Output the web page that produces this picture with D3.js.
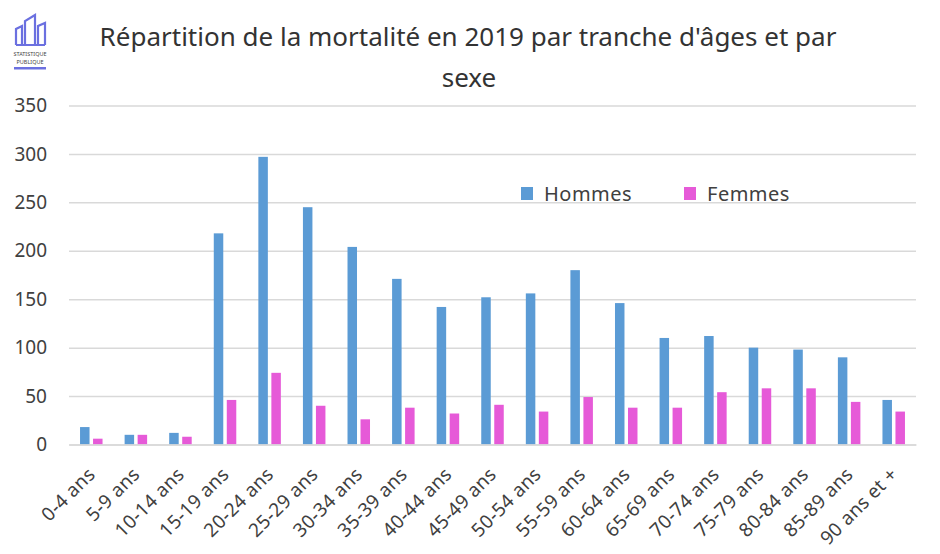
<!DOCTYPE html>
<html>
<head>
<meta charset="utf-8">
<script src="https://cdn.jsdelivr.net/npm/d3@7"></script>
<style>
  body { margin: 0; background: #fff; }
  svg { display: block; font-family: "Noto Sans", "Open Sans", sans-serif; }
</style>
</head>
<body>
<div id="chart"></div>
<script>
// Data
var categories = ["0-4 ans", "5-9 ans", "10-14 ans", "15-19 ans", "20-24 ans", "25-29 ans",
    "30-34 ans", "35-39 ans", "40-44 ans", "45-49 ans", "50-54 ans", "55-59 ans", "60-64 ans",
    "65-69 ans", "70-74 ans", "75-79 ans", "80-84 ans", "85-89 ans", "90 ans et +"];
var hommes = [18, 10, 12, 218, 297, 245, 204, 171, 142, 152, 156, 180, 146, 110, 112, 100, 98, 90, 46];
var femmes = [6, 10, 8, 46, 74, 40, 26, 38, 32, 41, 34, 49, 38, 38, 54, 58, 58, 44, 34];
var seriesNames = ["Hommes", "Femmes"];
var yTicks = [0, 50, 100, 150, 200, 250, 300, 350];

// Configuration
var width = 940, height = 554;
var colors = { "Hommes": "#5b9bd5", "Femmes": "#e65ad8" };
var textColor = "#404040";
var plot = { left: 69, right: 916, top: 105.5, bottom: 444.5 };

var svg = d3.select("#chart").append("svg")
    .attr("width", width)
    .attr("height", height);

// Scales
var x0 = d3.scaleBand()
    .domain(categories)
    .range([plot.left, plot.right]);

var groupWidth = 22.5;
var x1 = d3.scaleBand()
    .domain(seriesNames)
    .range([0, groupWidth])
    .paddingInner(0.27);

var y = d3.scaleLinear()
    .domain([0, 350])
    .range([plot.bottom, plot.top]);

// Gridlines
var yAxis = d3.axisLeft(y)
    .tickValues(yTicks)
    .tickSize(-(plot.right - plot.left))
    .tickPadding(22);

var yAxisG = svg.append("g")
    .attr("transform", "translate(" + plot.left + ",0)")
    .call(yAxis);
yAxisG.select(".domain").remove();
yAxisG.selectAll(".tick line")
    .attr("stroke", "#d9d9d9")
    .attr("stroke-width", 1.5);
yAxisG.selectAll(".tick text")
    .attr("fill", textColor)
    .attr("font-size", 19)
    .attr("font-family", "'Noto Sans', sans-serif");

// Bars
var rows = categories.map(function(c, i) {
    return { cat: c, values: [
        { key: "Hommes", value: hommes[i] },
        { key: "Femmes", value: femmes[i] }
    ]};
});

var groupG = svg.append("g").selectAll(".group")
    .data(rows)
    .enter()
    .append("g")
    .attr("class", "group")
    .attr("transform", function(d) {
        return "translate(" + (x0(d.cat) + (x0.bandwidth() - groupWidth) / 2) + ",0)";
    });

groupG.selectAll("rect")
    .data(function(d) { return d.values; })
    .enter()
    .append("rect")
    .attr("x", function(d) { return x1(d.key); })
    .attr("y", function(d) { return y(d.value); })
    .attr("width", x1.bandwidth())
    .attr("height", function(d) { return y(0) - y(d.value); })
    .attr("fill", function(d) { return colors[d.key]; });

// X axis (baseline + rotated labels)
var xAxis = d3.axisBottom(x0).tickSize(0).tickPadding(0);
var xAxisG = svg.append("g")
    .attr("transform", "translate(0," + plot.bottom + ")")
    .call(xAxis);
xAxisG.select(".domain")
    .attr("stroke", "#d9d9d9")
    .attr("stroke-width", 1.5);
xAxisG.selectAll(".tick text")
    .attr("fill", textColor)
    .attr("font-size", 19)
    .attr("letter-spacing", 0.3)
    .attr("font-family", "'Noto Sans', sans-serif")
    .attr("text-anchor", "end")
    .attr("dy", null)
    .attr("y", 0)
    .attr("transform", "translate(5,31) rotate(-45)");

// Legend
var legendItems = [{ key: "Hommes", x: 521, tx: 544 }, { key: "Femmes", x: 684, tx: 707 }];
var legendG = svg.append("g").selectAll(".legend")
    .data(legendItems)
    .enter()
    .append("g")
    .attr("class", "legend");
legendG.append("rect")
    .attr("x", function(d) { return d.x; })
    .attr("y", 187)
    .attr("width", 12)
    .attr("height", 13)
    .attr("fill", function(d) { return colors[d.key]; });
legendG.append("text")
    .attr("x", function(d) { return d.tx; })
    .attr("y", 201)
    .attr("font-size", 20)
    .attr("letter-spacing", 0.5)
    .attr("fill", textColor)
    .text(function(d) { return d.key; });

// Title
var title = svg.append("text")
    .attr("text-anchor", "middle")
    .attr("fill", "#333")
    .attr("font-size", 26);
title.append("tspan")
    .attr("x", 468).attr("y", 46)
    .text("Répartition de la mortalité en 2019 par tranche d'âges et par");
title.append("tspan")
    .attr("x", 469).attr("y", 87)
    .text("sexe");

// Logo
var logoColor = "#6b70e0";
var logoG = svg.append("g").attr("class", "logo");
logoG.append("path")
    .attr("d", "M16,45 L16,29 L22,26 L22,45 M25,45 L25,21 L35,15 L35,45 M38,45 L38,26 L45,23 L45,45 M16,45 L45,45")
    .attr("fill", "none")
    .attr("stroke", logoColor)
    .attr("stroke-width", 2.2);
logoG.append("text")
    .attr("x", 30).attr("y", 56)
    .attr("text-anchor", "middle")
    .attr("font-size", 5.5)
    .attr("fill", "#444")
    .text("STATISTIQUE");
logoG.append("text")
    .attr("x", 30).attr("y", 64)
    .attr("text-anchor", "middle")
    .attr("font-size", 5.5)
    .attr("fill", "#444")
    .text("PUBLIQUE");
logoG.append("rect")
    .attr("x", 14).attr("y", 67)
    .attr("width", 32).attr("height", 2.5)
    .attr("fill", logoColor);
</script>
</body>
</html>
